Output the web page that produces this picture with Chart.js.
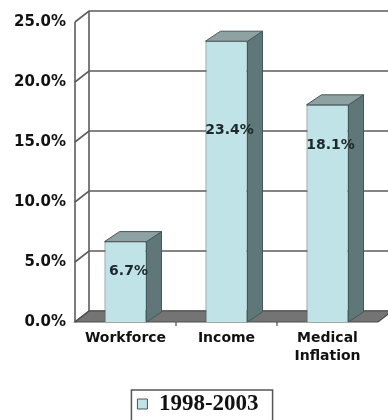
<!DOCTYPE html>
<html>
<head>
<meta charset="utf-8">
<script src="https://cdn.jsdelivr.net/npm/chart.js@4.4.1/dist/chart.umd.min.js"></script>
<style>
  html, body { margin: 0; padding: 0; background: #fff; }
  #wrap { width: 388px; height: 420px; }
</style>
</head>
<body>
<div id="wrap"><canvas id="myChart" width="388" height="420"></canvas></div>
<script>
// datos del grafico
const categorias = [['Workforce'], ['Income'], ['Medical', 'Inflation']];
const crecimiento = [6.7, 23.4, 18.1];
const serie = '1998-2003';
const ejeMax = 25;
const ejePaso = 5;

// colores de las caras de cada barra
const frente = '#bfe3e6';
const lado = '#607779';
const tapa = '#8ea1a3';
const lineaGris = '#5c5c5c';

// profundidad de la caja 3D
const fondoX = 14, fondoY = -11;
const barX = 15, barY = -10;

// caja 3D: paredes, rejilla y piso, luego las caras de las barras
const caja3d = {
  id: 'caja3d',
  beforeDatasetsDraw(chart) {
    const ctx = chart.ctx;
    const area = chart.chartArea;
    const y = chart.scales.y;
    const x = chart.scales.x;
    ctx.save();
    ctx.strokeStyle = lineaGris;
    ctx.lineWidth = 1.6;
    y.ticks.forEach(t => {
      const py = y.getPixelForValue(t.value);
      ctx.beginPath();
      ctx.moveTo(area.left, py);
      ctx.lineTo(area.left + fondoX, py + fondoY);
      ctx.lineTo(chart.width + 10, py + fondoY);
      ctx.stroke();
    });
    // aristas verticales
    ctx.beginPath();
    ctx.moveTo(area.left, area.top);
    ctx.lineTo(area.left, area.bottom);
    ctx.moveTo(area.left + fondoX, area.top + fondoY);
    ctx.lineTo(area.left + fondoX, area.bottom + fondoY);
    ctx.stroke();

    // piso
    const py0 = y.getPixelForValue(0);
    ctx.beginPath();
    ctx.moveTo(area.left, py0);
    ctx.lineTo(area.right, py0);
    ctx.lineTo(area.right + fondoX, py0 + fondoY);
    ctx.lineTo(area.left + fondoX, py0 + fondoY);
    ctx.closePath();
    ctx.fillStyle = '#747474';
    ctx.fill();
    ctx.strokeStyle = '#4c4c4c';
    ctx.lineWidth = 1.2;
    ctx.stroke();

    // marcas entre categorias
    ctx.beginPath();
    for (let i = 1; i < categorias.length; i++) {
      const px = (x.getPixelForValue(i - 1) + x.getPixelForValue(i)) / 2;
      ctx.moveTo(px, py0);
      ctx.lineTo(px, py0 + 4);
    }
    ctx.stroke();
    ctx.restore();
  },
  afterDatasetsDraw(chart, args, opts) {
    const ctx = chart.ctx;
    const meta = chart.getDatasetMeta(0);
    ctx.save();
    ctx.strokeStyle = '#46585b';
    ctx.lineWidth = 1;
    meta.data.forEach((bar, i) => {
      const w = bar.width;
      const l = bar.x - w / 2, r = bar.x + w / 2;
      const top = bar.y, base = bar.base;
      // cara lateral
      ctx.beginPath();
      ctx.moveTo(r, top);
      ctx.lineTo(r + barX, top + barY);
      ctx.lineTo(r + barX, base + barY);
      ctx.lineTo(r, base);
      ctx.closePath();
      ctx.fillStyle = lado;
      ctx.fill();
      ctx.stroke();
      // tapa
      ctx.beginPath();
      ctx.moveTo(l, top);
      ctx.lineTo(l + barX, top + barY);
      ctx.lineTo(r + barX, top + barY);
      ctx.lineTo(r, top);
      ctx.closePath();
      ctx.fillStyle = tapa;
      ctx.fill();
      ctx.stroke();
    });

    // etiquetas de valor
    const y = chart.scales.y;
    ctx.font = 'bold 14px "DejaVu Sans"';
    ctx.fillStyle = '#1c282c';
    ctx.textAlign = 'center';
    ctx.textBaseline = 'middle';
    meta.data.forEach((bar, i) => {
      const py = y.getPixelForValue(opts.alturaEtiqueta[i]);
      ctx.fillText(crecimiento[i].toFixed(1) + '%', bar.x + 3, py);
    });
    ctx.restore();
  }
};

// leyenda un poco a la derecha y con recuadro
const marcoLeyenda = {
  id: 'marcoLeyenda',
  afterLayout(chart) {
    const lg = chart.legend;
    lg.left += 9;
    lg.right += 9;
    lg.legendHitBoxes.forEach(h => { h.left += 9; });
  },
  afterDraw(chart) {
    const hb = chart.legend.legendHitBoxes[0];
    if (!hb) return;
    const ctx = chart.ctx;
    ctx.save();
    ctx.strokeStyle = '#555';
    ctx.lineWidth = 1.5;
    ctx.strokeRect(hb.left - 6, hb.top - 2.5, hb.width + 20, 60);
    ctx.restore();
  }
};

var ctx = document.getElementById('myChart').getContext('2d');

var myChart = new Chart(ctx, {
  type: 'bar',
  data: {
    labels: categorias,
    datasets: [{
      label: serie,
      data: crecimiento,
      backgroundColor: frente,
      borderColor: '#46585b',
      borderWidth: 1,
      categoryPercentage: 1,
      barPercentage: 0.416
    }]
  },
  options: {
    responsive: false,
    animation: false,
    // la leyenda queda cortada por el borde inferior
    layout: { padding: { top: 22, right: 10, left: 0, bottom: -5.5 } },
    scales: {
      x: {
        grid: { display: false, drawTicks: false },
        border: { display: false },
        ticks: {
          padding: 8,
          color: '#111',
          font: { family: 'DejaVu Sans', weight: 'bold', size: 14, lineHeight: 1.25 }
        },
        afterFit(scale) { scale.height = 70.5; }
      },
      y: {
        min: 0,
        max: ejeMax,
        grid: { display: false, drawTicks: false },
        border: { display: false },
        ticks: {
          stepSize: ejePaso,
          padding: 9,
          color: '#111',
          font: { family: 'DejaVu Sans', weight: 'bold', size: 15 },
          callback: v => v.toFixed(1) + '%'
        },
        afterFit(scale) { scale.width = 75; }
      }
    },
    plugins: {
      legend: {
        position: 'bottom',
        labels: {
          boxWidth: 10,
          boxHeight: 10,
          color: '#111',
          padding: 0,
          font: { family: 'Liberation Serif', weight: 'bold', size: 23 }
        }
      },
      tooltip: { enabled: false },
      caja3d: { alturaEtiqueta: [4.25, 16, 14.75] }
    }
  },
  plugins: [caja3d, marcoLeyenda]
});
</script>
</body>
</html>
